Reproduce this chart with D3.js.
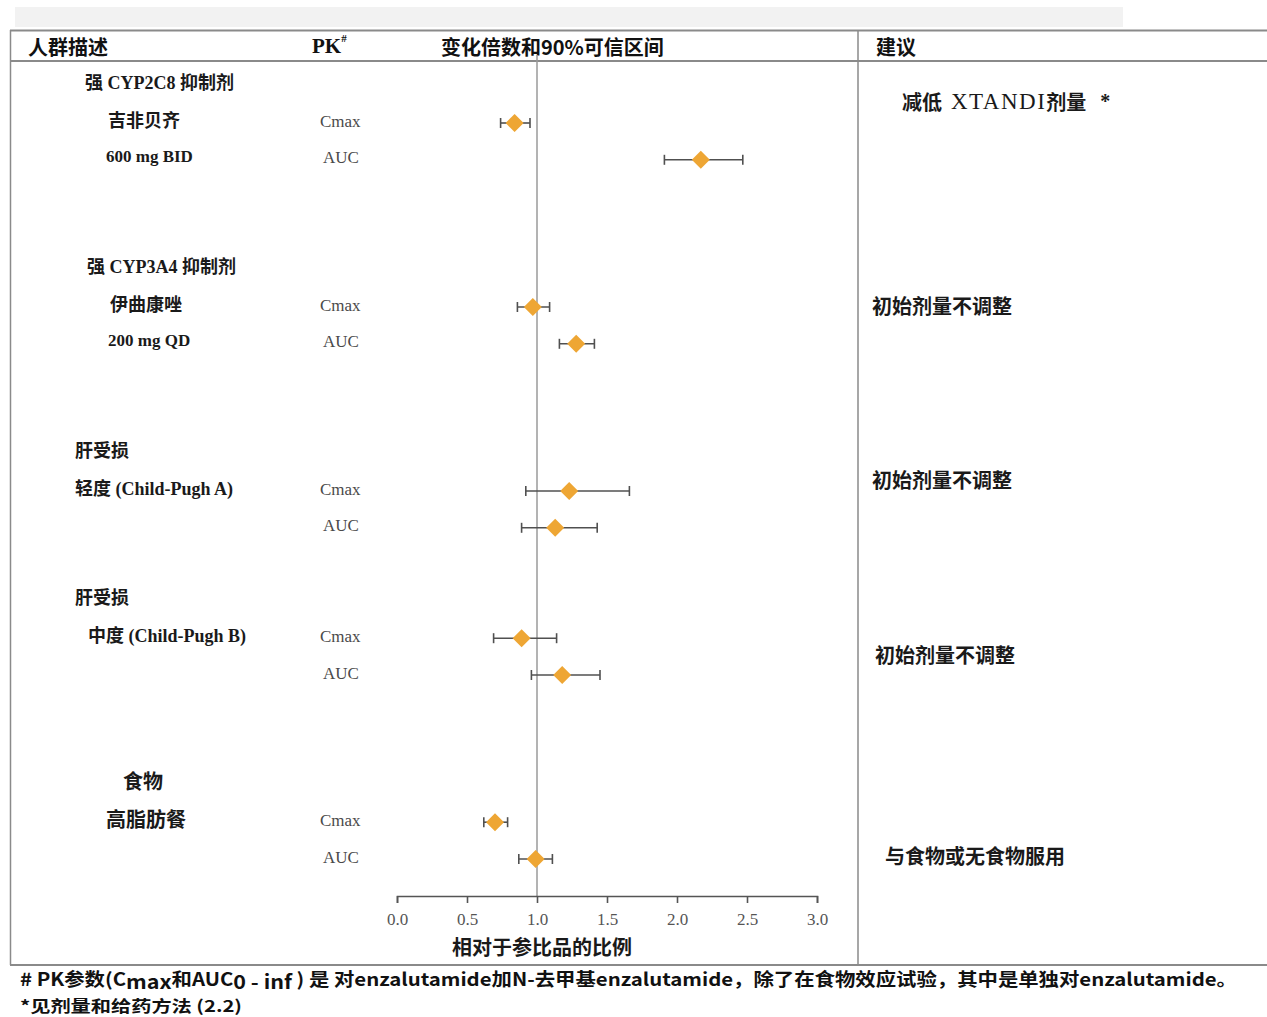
<!DOCTYPE html>
<html>
<head>
<meta charset="utf-8">
<script src="https://cdn.jsdelivr.net/npm/d3@7"></script>
<style>
  html, body { margin: 0; padding: 0; background: #fff; }
  svg { display: block; }
</style>
</head>
<body>
<script>
// ---- data ----
const groupTitles = ["强 CYP2C8 抑制剂", "强 CYP3A4 抑制剂", "肝受损", "肝受损", "食物"];
const groupSubtitles = ["吉非贝齐", "伊曲康唑", "轻度 (Child-Pugh A)", "中度  (Child-Pugh B)", "高脂肪餐"];
const groupDoses = ["600 mg BID", "200 mg QD", "", "", ""];
const recommendations = ["减低 XTANDI剂量  *", "初始剂量不调整", "初始剂量不调整", "初始剂量不调整", "与食物或无食物服用"];

const rowGroup = [0, 0, 1, 1, 2, 2, 3, 3, 4, 4];
const pkParams = ["Cmax", "AUC", "Cmax", "AUC", "Cmax", "AUC", "Cmax", "AUC", "Cmax", "AUC"];
const ratio   = [0.84, 2.17, 0.97, 1.28, 1.23, 1.13, 0.89, 1.18, 0.70, 0.99];
const ciLower = [0.74, 1.91, 0.86, 1.16, 0.92, 0.89, 0.69, 0.96, 0.62, 0.87];
const ciUpper = [0.95, 2.47, 1.09, 1.41, 1.66, 1.43, 1.14, 1.45, 0.79, 1.11];

const xTicks = [0.0, 0.5, 1.0, 1.5, 2.0, 2.5, 3.0];

// ---- layout ----
const W = 1267, H = 1017;
const rowSlot = [0, 1, 5, 6, 10, 11, 14, 15, 19, 20];   // vertical slot of each row
const titleX = [85, 87, 75, 75, 123];
const subtitleX = [108, 110, 75, 88, 106];
const doseX = [106, 108];
const recX = [902, 872, 872, 875, 885];
const recSlot = [-0.6, 4.95, 9.7, 14.45, 19.9];

const CJK_SANS = "'Noto Sans CJK SC', sans-serif";
const MIXED = "'Liberation Serif', 'Noto Sans CJK SC', serif";

const svg = d3.select("body").append("svg").attr("width", W).attr("height", H);

const x = d3.scaleLinear().domain([0, 3]).range([397, 817]);
const y = d3.scaleLinear().domain([0, 20]).range([123, 859]);

// ---- frame ----
svg.append("rect").attr("x", 15).attr("y", 7).attr("width", 1108).attr("height", 20).attr("fill", "#f2f2f2");

const frame = svg.append("g").attr("stroke", "#8a8a8a").attr("fill", "none");
frame.append("line").attr("x1", 10).attr("x2", W).attr("y1", 30.5).attr("y2", 30.5).attr("stroke-width", 2);
frame.append("line").attr("x1", 10).attr("x2", W).attr("y1", 61).attr("y2", 61).attr("stroke-width", 2);
frame.append("line").attr("x1", 10.5).attr("x2", 10.5).attr("y1", 30).attr("y2", 965).attr("stroke-width", 1.5);
frame.append("line").attr("x1", 858).attr("x2", 858).attr("y1", 30).attr("y2", 965).attr("stroke-width", 1.5);
frame.append("line").attr("x1", 10).attr("x2", W).attr("y1", 965).attr("y2", 965).attr("stroke-width", 2);

// ---- header ----
const header = svg.append("g").attr("font-weight", "bold").attr("fill", "#111");
header.append("text").attr("x", 28).attr("y", 46).attr("dominant-baseline", "central")
  .attr("font-family", CJK_SANS).attr("font-size", 20).text("人群描述");
const pk = header.append("text").attr("x", 312).attr("y", 46).attr("dominant-baseline", "central")
  .attr("font-family", "'Liberation Serif', serif").attr("font-size", 21);
pk.append("tspan").text("PK");
pk.append("tspan").attr("font-size", 11).attr("dy", -8).text("#");
header.append("text").attr("x", 441).attr("y", 46).attr("dominant-baseline", "central")
  .attr("font-family", CJK_SANS).attr("font-size", 20).text("变化倍数和90%可信区间");
header.append("text").attr("x", 876).attr("y", 46).attr("dominant-baseline", "central")
  .attr("font-family", CJK_SANS).attr("font-size", 20).text("建议");

// ---- reference line at ratio 1 ----
svg.append("line").attr("x1", x(1)).attr("x2", x(1)).attr("y1", 55).attr("y2", 896)
  .attr("stroke", "#9a9a9a").attr("stroke-width", 1.5);

// ---- left-hand group labels ----
const groupFirstRow = groupTitles.map((_, g) => rowGroup.indexOf(g));
const labels = svg.append("g").attr("fill", "#1a1a1a").attr("font-weight", "bold");
groupTitles.forEach((t, g) => {
  const s0 = rowSlot[groupFirstRow[g]];
  labels.append("text").attr("x", titleX[g]).attr("y", y(s0 - 1) - 3)
    .attr("dominant-baseline", "central").attr("font-family", MIXED)
    .attr("font-size", g === 4 ? 20 : 18).text(t);
  labels.append("text").attr("x", subtitleX[g]).attr("y", y(s0) - 2)
    .attr("dominant-baseline", "central").attr("font-family", MIXED)
    .attr("font-size", g === 4 ? 20 : 18).text(groupSubtitles[g]);
  if (groupDoses[g]) {
    labels.append("text").attr("x", doseX[g]).attr("y", y(s0 + 1) - 3)
      .attr("dominant-baseline", "central").attr("font-family", MIXED)
      .attr("font-size", 17).text(groupDoses[g]);
  }
});

// ---- PK parameter column ----
svg.append("g").selectAll("text").data(pkParams).join("text")
  .attr("x", (d) => d === "Cmax" ? 320 : 323)
  .attr("y", (d, i) => y(rowSlot[i]) - 2)
  .attr("dominant-baseline", "central")
  .attr("font-family", "'Liberation Serif', serif").attr("font-size", 17)
  .attr("fill", "#4a4a4a").text((d) => d);

// ---- recommendations ----
svg.append("g").selectAll("text").data(recommendations).join("text")
  .attr("x", (d, i) => recX[i]).attr("y", (d, i) => y(recSlot[i]))
  .attr("dominant-baseline", "central")
  .attr("font-family", (d, i) => i === 0 ? MIXED : CJK_SANS)
  .attr("font-weight", "bold").attr("font-size", 20).attr("fill", "#1a1a1a")
  .each(function (d, i) {
    const el = d3.select(this);
    if (i === 0) {
      el.append("tspan").attr("font-family", CJK_SANS).text("减低");
      el.append("tspan").attr("font-weight", "normal").attr("font-family", "'Liberation Serif', serif")
        .attr("font-size", 23).attr("letter-spacing", 1.5).attr("dx", 9).text("XTANDI");
      el.append("tspan").attr("font-family", CJK_SANS).attr("font-size", 20).text("剂量");
      el.append("tspan").attr("font-family", "'Liberation Serif', serif").attr("dx", 14).text("*");
    } else {
      el.text(d);
    }
  });

// ---- error bars and point estimates ----
const rows = ratio.map((r, i) => ({ r, lo: ciLower[i], hi: ciUpper[i], yy: y(rowSlot[i]) }));
const bars = svg.append("g").attr("stroke", "#505050").attr("stroke-width", 1.6);
bars.selectAll(".ci").data(rows).join("line").attr("class", "ci")
  .attr("x1", (d) => x(d.lo)).attr("x2", (d) => x(d.hi))
  .attr("y1", (d) => d.yy).attr("y2", (d) => d.yy);
bars.selectAll(".capL").data(rows).join("line").attr("class", "capL")
  .attr("x1", (d) => x(d.lo)).attr("x2", (d) => x(d.lo))
  .attr("y1", (d) => d.yy - 5).attr("y2", (d) => d.yy + 5);
bars.selectAll(".capR").data(rows).join("line").attr("class", "capR")
  .attr("x1", (d) => x(d.hi)).attr("x2", (d) => x(d.hi))
  .attr("y1", (d) => d.yy - 5).attr("y2", (d) => d.yy + 5);

const diamond = "M0,-9L9,0L0,9L-9,0Z";
svg.append("g").selectAll("path").data(rows).join("path")
  .attr("d", diamond)
  .attr("transform", (d) => `translate(${x(d.r)},${d.yy})`)
  .attr("fill", "#eea634");

// ---- x axis ----
const axis = d3.axisBottom(x).tickValues(xTicks).tickFormat(d3.format(".1f"))
  .tickSizeInner(7).tickSizeOuter(7).tickPadding(10);
const ax = svg.append("g").attr("transform", "translate(0,896)").call(axis);
ax.select(".domain").attr("stroke", "#555").attr("stroke-width", 1.6);
ax.selectAll(".tick line").attr("stroke", "#555").attr("stroke-width", 1.6);
ax.selectAll(".tick text").attr("font-family", "'Liberation Serif', serif")
  .attr("font-size", 17).attr("fill", "#555");

svg.append("text").attr("x", 542).attr("y", 946).attr("text-anchor", "middle")
  .attr("dominant-baseline", "central")
  .attr("font-family", CJK_SANS).attr("font-weight", "bold").attr("font-size", 20)
  .attr("fill", "#1a1a1a").text("相对于参比品的比例");

// ---- footnotes ----
const foot = svg.append("text").attr("x", 20).attr("y", 986)
  .attr("font-family", CJK_SANS).attr("font-weight", "bold").attr("font-size", 18).attr("fill", "#111")
  .attr("textLength", 1217).attr("lengthAdjust", "spacingAndGlyphs");
foot.append("tspan").text("# PK参数(C");
foot.append("tspan").attr("dy", 3).attr("font-size", 19).text("max");
foot.append("tspan").attr("dy", -3).text("和AUC");
foot.append("tspan").attr("dy", 3).attr("font-size", 19).text("0 - inf");
foot.append("tspan").attr("dy", -3).text(" ) 是 对enzalutamide加N-去甲基enzalutamide，除了在食物效应试验，其中是单独对enzalutamide。");

svg.append("text").attr("x", 20).attr("y", 1012)
  .attr("font-family", CJK_SANS).attr("font-weight", "bold").attr("font-size", 16).attr("fill", "#111")
  .attr("textLength", 222).attr("lengthAdjust", "spacingAndGlyphs")
  .text("*见剂量和给药方法 (2.2)");
</script>
</body>
</html>
